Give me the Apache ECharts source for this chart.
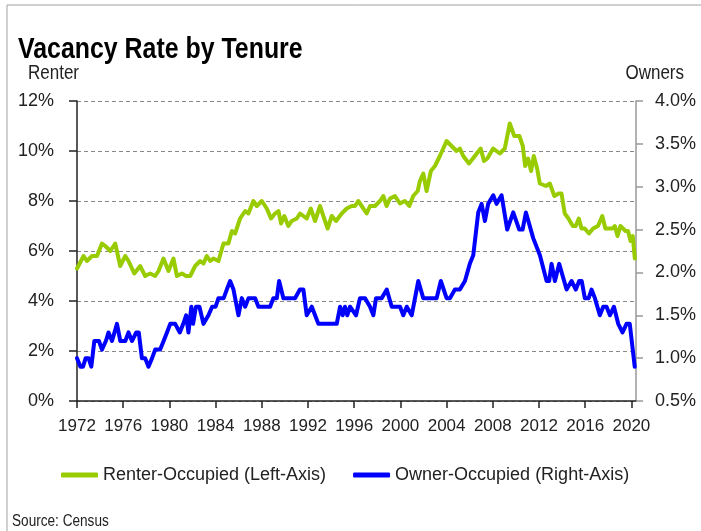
<!DOCTYPE html>
<html>
<head>
<meta charset="utf-8">
<script src="https://cdn.jsdelivr.net/npm/echarts@6/dist/echarts.min.js"></script>
<style>
  html, body { margin: 0; padding: 0; background: #fff; }
  #chart { width: 701px; height: 531px; }
</style>
</head>
<body>
<div id="chart"></div>
<script>
var FONT = '"Liberation Sans", Arial, sans-serif';

// renter-occupied vacancy rate (left axis, %)
var renterYears = [
  1972.00, 1972.57, 1972.86, 1973.30, 1973.73, 1974.16, 1974.45, 1974.88, 1975.31, 1975.74,
  1976.18, 1976.46, 1976.96, 1977.47, 1977.90, 1978.33, 1978.77, 1979.06, 1979.49, 1979.92,
  1980.35, 1980.65, 1981.08, 1981.45, 1981.80, 1982.23, 1982.66, 1982.95, 1983.24, 1983.53,
  1983.81, 1984.25, 1984.68, 1985.11, 1985.41, 1985.69, 1986.12, 1986.56, 1986.84, 1987.27,
  1987.57, 1988.00, 1988.43, 1988.80, 1989.15, 1989.44, 1989.67, 1989.95, 1990.30, 1990.59,
  1991.03, 1991.31, 1991.60, 1991.89, 1992.24, 1992.61, 1993.04, 1993.33, 1993.70, 1994.06,
  1994.43, 1994.92, 1995.35, 1995.78, 1996.07, 1996.35, 1996.65, 1997.08, 1997.37, 1997.80,
  1998.23, 1998.52, 1998.81, 1999.10, 1999.53, 1999.96, 2000.39, 2000.77, 2001.11, 2001.50,
  2001.69, 2001.98, 2002.27, 2002.64, 2002.99, 2003.42, 2004.00, 2004.43, 2004.86, 2005.15,
  2005.44, 2005.94, 2006.45, 2006.95, 2007.24, 2007.53, 2008.03, 2008.32, 2008.61, 2009.04,
  2009.47, 2009.86, 2010.30, 2010.60, 2010.80, 2011.06, 2011.32, 2011.55, 2011.84, 2012.07,
  2012.60, 2012.94, 2013.33, 2013.70, 2013.95, 2014.23, 2014.55, 2014.93, 2015.18, 2015.45,
  2015.68, 2015.96, 2016.33, 2016.68, 2017.11, 2017.48, 2017.75, 2018.12, 2018.36, 2018.56,
  2018.80, 2019.05, 2019.50, 2019.71, 2019.93, 2020.12, 2020.30
];
var renterRates = [
  5.3, 5.8, 5.6, 5.8, 5.8, 6.3, 6.2, 6.0, 6.3, 5.4,
  5.8, 5.6, 5.1, 5.4, 5.0, 5.1, 5.0, 5.2, 5.7, 5.2,
  5.7, 5.0, 5.1, 5.0, 5.0, 5.4, 5.6, 5.5, 5.8, 5.6,
  5.7, 5.6, 6.3, 6.3, 6.8, 6.7, 7.3, 7.6, 7.5, 8.0,
  7.8, 8.0, 7.7, 7.3, 7.5, 7.6, 7.1, 7.4, 7.0, 7.2,
  7.3, 7.5, 7.4, 7.3, 7.7, 7.2, 7.8, 7.4, 6.9, 7.4,
  7.2, 7.5, 7.7, 7.8, 7.8, 8.0, 7.8, 7.5, 7.8, 7.8,
  8.0, 8.2, 7.8, 8.1, 8.2, 7.9, 8.0, 7.8, 8.2, 8.4,
  8.8, 9.1, 8.4, 9.2, 9.4, 9.8, 10.4, 10.2, 10.0, 10.1,
  9.8, 9.5, 9.8, 10.1, 9.6, 9.7, 10.1, 10.0, 9.9, 10.1,
  11.1, 10.6, 10.6, 10.2, 9.4, 9.7, 9.2, 9.8, 9.3, 8.7,
  8.6, 8.7, 8.2, 8.3, 8.3, 7.5, 7.3, 7.0, 7.0, 7.3,
  6.9, 6.9, 6.7, 6.9, 7.0, 7.4, 6.9, 6.9, 6.9, 7.0,
  6.6, 7.0, 6.8, 6.8, 6.4, 6.6, 5.7
];

// owner-occupied vacancy rate (right axis, %)
var ownerYears = [
  1972.00, 1972.30, 1972.52, 1972.75, 1973.00, 1973.24, 1973.50, 1973.90, 1974.16, 1974.50,
  1974.73, 1975.03, 1975.46, 1975.75, 1976.18, 1976.46, 1976.76, 1977.13, 1977.35, 1977.62,
  1977.90, 1978.19, 1978.50, 1978.77, 1979.20, 1979.50, 1979.79, 1980.07, 1980.50, 1980.90,
  1981.20, 1981.45, 1981.65, 1981.90, 1982.05, 1982.30, 1982.60, 1982.95, 1983.38, 1983.70,
  1984.00, 1984.25, 1984.70, 1984.97, 1985.26, 1985.55, 1985.98, 1986.27, 1986.56, 1986.85,
  1987.42, 1987.71, 1988.72, 1989.00, 1989.30, 1989.50, 1989.87, 1990.88, 1991.30, 1991.60,
  1991.89, 1992.33, 1992.90, 1994.49, 1994.78, 1995.00, 1995.20, 1995.40, 1995.64, 1996.16,
  1996.50, 1996.94, 1997.37, 1997.66, 1997.89, 1998.38, 1998.82, 1999.25, 1999.97, 2000.25,
  2000.55, 2000.98, 2001.55, 2001.98, 2003.14, 2003.50, 2004.00, 2004.29, 2004.72, 2005.15,
  2005.59, 2006.01, 2006.31, 2006.74, 2007.03, 2007.32, 2007.60, 2008.04, 2008.33, 2008.76,
  2009.25, 2009.77, 2010.29, 2010.58, 2010.87, 2011.50, 2012.08, 2012.66, 2012.88, 2013.09,
  2013.38, 2013.75, 2014.39, 2014.82, 2015.19, 2015.48, 2015.70, 2015.97, 2016.30, 2016.55,
  2016.84, 2017.27, 2017.56, 2017.85, 2018.14, 2018.49, 2018.86, 2019.23, 2019.58, 2019.86,
  2020.29
];
var ownerRates = [
  1.0, 0.9, 0.9, 1.0, 1.0, 0.9, 1.2, 1.2, 1.1, 1.2,
  1.3, 1.2, 1.4, 1.2, 1.2, 1.3, 1.2, 1.3, 1.3, 1.0,
  1.0, 0.9, 1.0, 1.1, 1.1, 1.2, 1.3, 1.4, 1.4, 1.3,
  1.4, 1.5, 1.3, 1.6, 1.4, 1.6, 1.6, 1.4, 1.5, 1.6,
  1.6, 1.7, 1.7, 1.8, 1.9, 1.8, 1.5, 1.7, 1.6, 1.7,
  1.7, 1.6, 1.6, 1.7, 1.7, 1.9, 1.7, 1.7, 1.8, 1.8,
  1.5, 1.6, 1.4, 1.4, 1.6, 1.5, 1.6, 1.5, 1.6, 1.5,
  1.7, 1.7, 1.6, 1.5, 1.7, 1.7, 1.8, 1.6, 1.6, 1.5,
  1.6, 1.5, 1.9, 1.7, 1.7, 1.9, 1.7, 1.7, 1.8, 1.8,
  1.9, 2.1, 2.2, 2.7, 2.8, 2.6, 2.8, 2.9, 2.8, 2.9,
  2.5, 2.7, 2.5, 2.5, 2.7, 2.4, 2.2, 1.9, 1.9, 2.1,
  1.9, 2.1, 1.8, 1.9, 1.8, 1.9, 1.9, 1.7, 1.7, 1.8,
  1.7, 1.5, 1.6, 1.6, 1.5, 1.6, 1.4, 1.3, 1.4, 1.4,
  0.9
];

var yearTicks = [1972, 1976, 1980, 1984, 1988, 1992, 1996, 2000, 2004, 2008, 2012, 2016, 2020];
var seriesNames = ['Renter-Occupied (Left-Axis)', 'Owner-Occupied (Right-Axis)'];

function zip(xs, ys) {
  return xs.map(function (x, i) { return [x, ys[i]]; });
}

var chart = echarts.init(document.getElementById('chart'), null, { renderer: 'canvas' });

chart.setOption({
  animation: false,
  backgroundColor: '#fff',
  textStyle: { fontFamily: FONT },
  graphic: [
    {
      type: 'rect',
      shape: { x: 7, y: 5, width: 720, height: 560 },
      style: { fill: 'none', stroke: '#a0a0a0', lineWidth: 1 }
    },
    {
      // condensed look of the original title
      type: 'text', x: 18, y: 50, scaleX: 0.83,
      style: { text: 'Vacancy Rate by Tenure', font: 'bold 30px ' + FONT, fill: '#000', textVerticalAlign: 'middle' }
    },
    {
      type: 'text', x: 28, y: 73, scaleX: 0.85,
      style: { text: 'Renter', font: '20px ' + FONT, fill: '#222', textVerticalAlign: 'middle' }
    },
    {
      type: 'text', x: 684, y: 73, scaleX: 0.85,
      style: { text: 'Owners', font: '20px ' + FONT, fill: '#222', textAlign: 'right', textVerticalAlign: 'middle' }
    },
    {
      type: 'text', x: 12, y: 522, scaleX: 0.85,
      style: { text: 'Source: Census', font: '16px ' + FONT, fill: '#222', textVerticalAlign: 'middle' }
    }
  ],
  color: ['#99cc00', '#0000ff'],
  legend: {
    data: seriesNames,
    left: 56,
    top: 461,
    icon: 'roundRect',
    itemWidth: 37,
    itemHeight: 5,
    itemGap: 27,
    textStyle: { fontFamily: FONT, fontSize: 18, color: '#222' }
  },
  grid: {
    left: 77,
    right: 65,
    top: 101,
    bottom: 130
  },
  xAxis: {
    type: 'value',
    min: 1972,
    max: 2020.4,
    interval: 4,
    splitLine: { show: false },
    axisLine: { lineStyle: { color: '#222', width: 1.5 } },
    axisTick: {
      customValues: yearTicks,
      length: 7,
      lineStyle: { color: '#222', width: 1.5 }
    },
    axisLabel: {
      customValues: yearTicks,
      margin: 17,
      fontSize: 17,
      color: '#222',
      fontFamily: FONT,
      formatter: function (v) { return String(Math.round(v)); }
    }
  },
  yAxis: [
    {
      type: 'value',
      position: 'left',
      min: 0,
      max: 12,
      interval: 2,
      axisLine: { show: true, lineStyle: { color: '#222', width: 1.5 } },
      axisTick: { show: true, length: 8, lineStyle: { color: '#222', width: 1.5 } },
      axisLabel: {
        margin: 23,
        fontSize: 18,
        color: '#222',
        fontFamily: FONT,
        formatter: function (v) { return v + '%'; }
      },
      splitLine: { show: true, lineStyle: { color: '#888', type: [4, 3], width: 1 } }
    },
    {
      type: 'value',
      position: 'right',
      min: 0.5,
      max: 4.0,
      interval: 0.5,
      axisLine: { show: true, lineStyle: { color: '#999', width: 1.5 } },
      axisTick: { show: true, length: 7, lineStyle: { color: '#999', width: 1.5 } },
      axisLabel: {
        margin: 19,
        fontSize: 18,
        color: '#222',
        fontFamily: FONT,
        formatter: function (v) { return v.toFixed(1) + '%'; }
      },
      splitLine: { show: false }
    }
  ],
  series: [
    {
      name: seriesNames[0],
      type: 'line',
      yAxisIndex: 0,
      showSymbol: false,
      symbol: 'none',
      lineStyle: { width: 4, join: 'round', cap: 'round' },
      data: zip(renterYears, renterRates)
    },
    {
      name: seriesNames[1],
      type: 'line',
      yAxisIndex: 1,
      showSymbol: false,
      symbol: 'none',
      lineStyle: { width: 4, join: 'round', cap: 'round' },
      data: zip(ownerYears, ownerRates)
    }
  ]
});
</script>
</body>
</html>
